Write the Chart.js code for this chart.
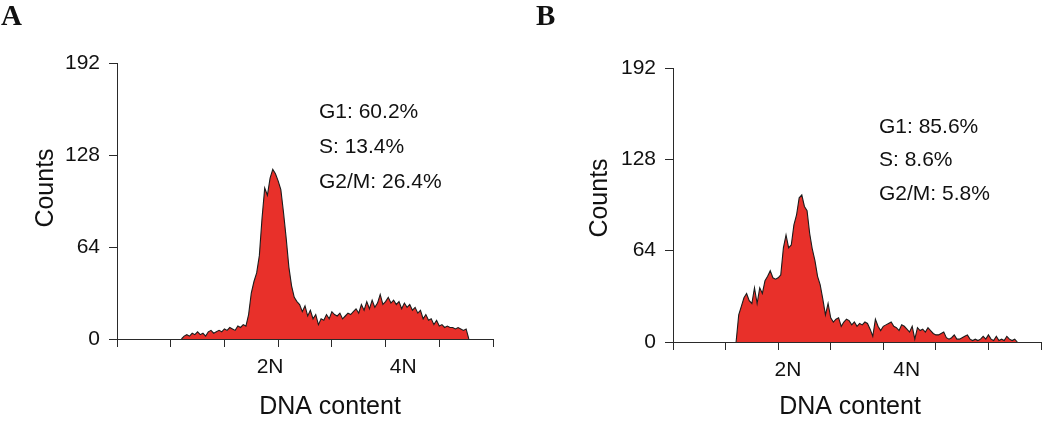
<!DOCTYPE html>
<html lang="en">
<head>
    <meta charset="UTF-8">
    <title>Cell cycle histograms</title>
    <script src="https://cdn.jsdelivr.net/npm/chart.js"></script>
    <style>
        body { margin: 0; background: #fff; }
        .panel { position: absolute; top: 0; }
        #panelA { left: 0; }
        #panelB { left: 525px; }
    </style>
</head>
<body>
    <canvas id="panelA" class="panel" width="525" height="433"></canvas>
    <canvas id="panelB" class="panel" width="525" height="433"></canvas>

    <script>
        // DNA histogram data (counts per channel, channels start at firstChannel)
        const firstChannel = 24;
        const countsA = [0, 2, 3, 2, 4, 3, 5, 3, 4, 2, 5, 6, 4, 5, 6, 5, 7, 6, 8, 7, 6, 9, 8, 10, 9,
            17, 32, 40, 46, 58, 84, 105, 100, 112, 118, 115, 110, 104, 88, 70, 50, 37, 29, 26, 24,
            19, 23, 16, 20, 14, 17, 10, 14, 13, 17, 14, 19, 17, 16, 18, 14, 16, 18, 17, 19, 21, 18,
            24, 20, 26, 21, 27, 22, 25, 31, 24, 26, 29, 25, 27, 24, 26, 21, 25, 22, 24, 20, 22, 18,
            20, 14, 17, 13, 14, 10, 13, 9, 10, 8, 9, 8, 8, 7, 8, 7, 6, 7, 0];
        const countsB = [0, 19, 25, 31, 34, 29, 27, 38, 27, 38, 34, 43, 46, 50, 45, 44, 45, 47, 66,
            75, 66, 68, 82, 89, 101, 103, 95, 92, 76, 65, 57, 46, 40, 30, 19, 27, 17, 14, 16, 17,
            11, 14, 16, 15, 12, 14, 11, 13, 12, 14, 13, 9, 4, 16, 11, 8, 11, 12, 13, 14, 11, 10, 8,
            12, 11, 9, 7, 11, 2, 10, 8, 9, 7, 10, 8, 6, 5, 5, 6, 7, 3, 2, 3, 5, 2, 2, 3, 4, 5, 2, 1,
            2, 1, 2, 4, 2, 5, 2, 1, 4, 1, 2, 1, 4, 2, 1, 2, 0];

        const yTicks = [0, 64, 128, 192];
        const xGridTicks = [0, 20, 40, 60, 80, 100, 120, 140];
        const xTickLabels = ['2N', '4N'];
        const labelChannelsA = [57, 106.6];
        const labelChannelsB = [43.7, 88.9];
        const statsA = ['G1: 60.2%', 'S: 13.4%', 'G2/M: 26.4%'];
        const statsB = ['G1: 85.6%', 'S: 8.6%', 'G2/M: 5.8%'];

        const sans = '"Liberation Sans", Arial, sans-serif';
        const ink = '#111111';
        const axisColor = '#2a2a2a';

        // draws panel letter, phase percentages and axis titles
        const panelText = {
            id: 'panelText',
            afterDraw(chart, args, opts) {
                const ctx = chart.ctx;
                ctx.save();
                ctx.fillStyle = ink;
                ctx.textAlign = 'left';
                ctx.textBaseline = 'alphabetic';
                ctx.font = 'bold 29px "Liberation Serif", "Times New Roman", serif';
                ctx.fillText(opts.letter, opts.letterPos[0], opts.letterPos[1]);

                ctx.font = '21px ' + sans;
                ctx.textBaseline = 'middle';
                opts.stats.forEach((s, i) => ctx.fillText(s, opts.statsX, opts.statsY[i]));

                ctx.font = '25px ' + sans;
                ctx.textAlign = 'center';
                ctx.fillText('DNA content', opts.xTitle[0], opts.xTitle[1]);
                ctx.translate(opts.yTitle[0], opts.yTitle[1]);
                ctx.rotate(-Math.PI / 2);
                ctx.fillText('Counts', 0, 0);
                ctx.restore();
            }
        };

        function makePanel(id, counts, labelChannels, stats, layout) {
            const points = counts.map((c, i) => ({ x: firstChannel + i, y: c }));
            const labelMap = {};
            labelChannels.forEach((v, i) => { labelMap[v] = xTickLabels[i]; });

            new Chart(document.getElementById(id), {
                type: 'line',
                data: {
                    datasets: [{
                        data: points,
                        borderColor: '#1c1c1c',
                        borderWidth: 1.1,
                        backgroundColor: '#e8302a',
                        fill: 'origin',
                        pointRadius: 0,
                        tension: 0
                    }]
                },
                options: {
                    responsive: false,
                    animation: false,
                    events: [],
                    layout: { padding: { left: 0, top: layout.top, right: layout.right, bottom: 0 } },
                    plugins: {
                        legend: { display: false },
                        tooltip: { enabled: false },
                        panelText: {
                            letter: layout.letter,
                            letterPos: layout.letterPos,
                            stats: stats,
                            statsX: layout.statsX,
                            statsY: layout.statsY,
                            xTitle: layout.xTitle,
                            yTitle: layout.yTitle
                        }
                    },
                    scales: {
                        x: {
                            type: 'linear',
                            min: 0,
                            max: 140,
                            afterFit: (scale) => { scale.height = layout.xHeight; },
                            afterBuildTicks: (scale) => {
                                scale.ticks = xGridTicks.concat(labelChannels)
                                    .sort((a, b) => a - b)
                                    .map(v => ({ value: v }));
                            },
                            ticks: {
                                autoSkip: false,
                                maxRotation: 0,
                                minRotation: 0,
                                padding: 8,
                                color: ink,
                                font: { family: sans, size: 21 },
                                callback: (value) => labelMap[value] || ''
                            },
                            grid: {
                                drawOnChartArea: false,
                                drawTicks: true,
                                tickLength: 8,
                                tickColor: (ctx) => (ctx.tick && labelMap[ctx.tick.value]) ? 'rgba(0,0,0,0)' : axisColor
                            },
                            border: { display: true, color: axisColor, width: 1 }
                        },
                        y: {
                            min: 0,
                            max: 192,
                            afterFit: (scale) => { scale.width = layout.yWidth; },
                            afterBuildTicks: (scale) => { scale.ticks = yTicks.map(v => ({ value: v })); },
                            ticks: {
                                padding: 9,
                                color: ink,
                                font: { family: sans, size: 21 }
                            },
                            grid: {
                                drawOnChartArea: false,
                                drawTicks: true,
                                tickLength: 8,
                                tickColor: axisColor
                            },
                            border: { display: true, color: axisColor, width: 1 }
                        }
                    }
                },
                plugins: [panelText]
            });
        }

        makePanel('panelA', countsA, labelChannelsA, statsA, {
            top: 63, right: 32, yWidth: 117, xHeight: 94,
            letter: 'A', letterPos: [1, 25],
            statsX: 319, statsY: [112, 147, 182],
            xTitle: [330, 407], yTitle: [46, 188]
        });

        makePanel('panelB', countsB, labelChannelsB, statsB, {
            top: 68, right: 9, yWidth: 148, xHeight: 91,
            letter: 'B', letterPos: [11, 25],
            statsX: 354, statsY: [127, 160, 194],
            xTitle: [325, 407], yTitle: [75, 198]
        });
    </script>
</body>
</html>
